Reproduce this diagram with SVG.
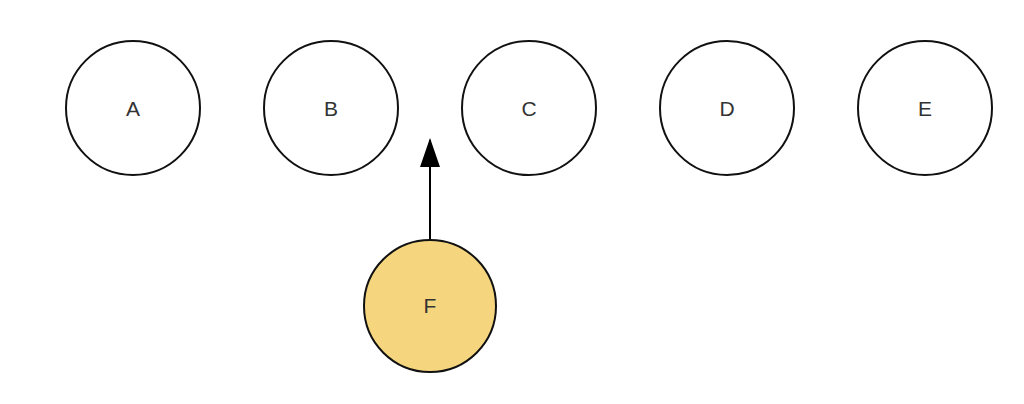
<svg xmlns="http://www.w3.org/2000/svg" width="1024" height="404" viewBox="0 0 1024 404">
<style>
.n{fill:#fff;stroke:#111;stroke-width:2}
.f{fill:#F5D67F;stroke:#111;stroke-width:2}
.t{font-family:"Liberation Sans",Arial,sans-serif;font-size:21px;fill:#333;text-anchor:middle;dominant-baseline:central}
.e{stroke:#000;stroke-width:2;fill:none}
</style>
<defs>
<marker id="ah" viewBox="0 0 29 20" refX="27" refY="10" markerWidth="29" markerHeight="20" markerUnits="userSpaceOnUse" orient="auto">
<path d="M0,0 L29,10 L0,20 Z" fill="#000"/>
</marker>
</defs>
<rect width="1024" height="404" fill="#fff"/>
<g id="connectors">
<path class="e" d="M430,240 L430,140" marker-end="url(#ah)"/>
</g>
<g id="A"><circle class="n" cx="133" cy="108" r="67"/><text class="t" x="133" y="108">A</text></g>
<g id="B"><circle class="n" cx="331" cy="108" r="67"/><text class="t" x="331" y="108">B</text></g>
<g id="C"><circle class="n" cx="529" cy="108" r="67"/><text class="t" x="529" y="108">C</text></g>
<g id="D"><circle class="n" cx="727" cy="108" r="67"/><text class="t" x="727" y="108">D</text></g>
<g id="E"><circle class="n" cx="925" cy="108" r="67"/><text class="t" x="925" y="108">E</text></g>
<g id="F"><circle class="f" cx="430" cy="306" r="66"/><text class="t" x="430" y="305">F</text></g>
</svg>
